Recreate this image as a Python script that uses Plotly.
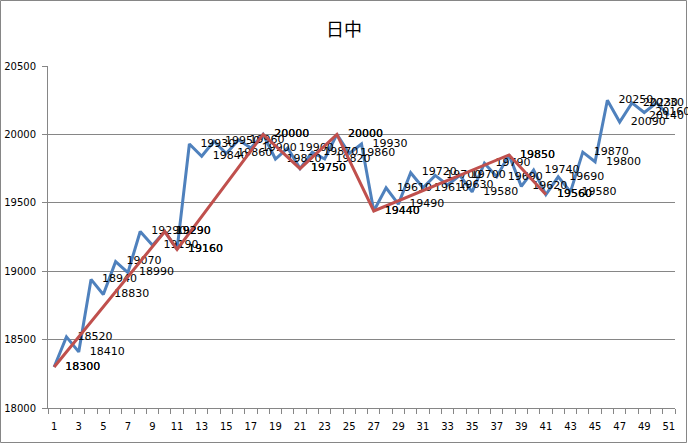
import plotly.graph_objects as go

# ---- data ----
days = list(range(1, 52))
price = [18300, 18520, 18410, 18940, 18830, 19070, 18990, 19290, 19190, 19290,
         19160, 19930, 19840, 19950, 19860, 19960, 19900, 20000, 19820, 19900,
         19750, 19870, 19820, 20000, 19860, 19930, 19440, 19610, 19490, 19720,
         19610, 19700, 19630, 19700, 19580, 19790, 19690, 19850, 19620, 19740,
         19560, 19690, 19580, 19870, 19800, 20250, 20090, 20230, 20160, 20230,
         20140]
zz_days = [1, 10, 11, 18, 21, 24, 27, 38, 41]
zz_price = [18300, 19290, 19160, 20000, 19750, 20000, 19440, 19850, 19560]
x_ticks = list(range(1, 52, 2))
y_ticks = [18000, 18500, 19000, 19500, 20000, 20500]
title_text = "日中"

BLUE = "#4F81BD"
RED = "#C0504D"
GRID = "#868686"
LABEL_FONT = dict(family="DejaVu Sans", size=11, color="black")

W, H = 688, 444
L, R, T, B = 48, 13, 66, 36
pw, ph = W - L - R, H - T - B
X0, X1 = 0.5, 51.5
ppu = pw / (X1 - X0)  # pixels per category

n = len(days)
n_pushed = 2  # labels nudged inward at the right edge of the chart
text_blue = [str(v) for v in price[:n - n_pushed]] + [""] * n_pushed

fig = go.Figure()
fig.add_trace(go.Scatter(
    x=days, y=price, mode="lines+markers+text",
    line=dict(color=BLUE, width=3),
    marker=dict(size=16, color="rgba(0,0,0,0)"),
    text=text_blue, textposition="middle right",
    textfont=LABEL_FONT, cliponaxis=False, showlegend=False, hoverinfo="skip",
))
fig.add_trace(go.Scatter(
    x=zz_days, y=zz_price, mode="lines+markers+text",
    line=dict(color=RED, width=3),
    marker=dict(size=16, color="rgba(0,0,0,0)"),
    text=[str(v) for v in zz_price], textposition="middle right",
    textfont=LABEL_FONT, cliponaxis=False, showlegend=False, hoverinfo="skip",
))

annotations = []
for d, v in zip(days[n - n_pushed:], price[n - n_pushed:]):
    px = L + (d - X0) * ppu
    annotations.append(dict(
        x=d, y=v, xref="x", yref="y", text=str(v), showarrow=False,
        xanchor="right", yanchor="middle", xshift=(W - 2) - px,
        font=LABEL_FONT,
    ))

fig.update_layout(
    width=W, height=H,
    margin=dict(l=L, r=R, t=T, b=B, autoexpand=False),
    paper_bgcolor="white", plot_bgcolor="white",
    title=dict(text=title_text, x=344 / W, xanchor="center", y=1 - 30 / H, yanchor="middle",
               font=dict(family="Noto Sans CJK JP", size=18, color="black")),
    xaxis=dict(
        range=[X0, X1], tickvals=x_ticks, ticktext=[str(v) for v in x_ticks],
        ticks="", showgrid=False, zeroline=False, automargin=False,
        showline=True, linecolor=GRID, linewidth=1,
        tickfont=dict(family="DejaVu Sans", size=10, color="black"),
        minor=dict(tick0=0.5, dtick=1, ticks="outside", ticklen=5, tickcolor=GRID, showgrid=False),
        ticklabelstandoff=9,
    ),
    yaxis=dict(
        range=[18000, 20500], tickvals=y_ticks, ticktext=[str(v) for v in y_ticks],
        ticks="outside", ticklen=5, tickcolor=GRID, automargin=False,
        showgrid=True, gridcolor=GRID, gridwidth=1, zeroline=False,
        showline=True, linecolor=GRID, linewidth=1,
        tickfont=dict(family="DejaVu Sans", size=10, color="black"),
        ticklabelstandoff=4,
    ),
    annotations=annotations,
    shapes=[dict(type="rect", xref="paper", yref="paper",
                 x0=(0.5 - L) / pw, x1=(W - 1.5 - L) / pw,
                 y0=-(H - 1.5 - (H - B)) / ph, y1=1 + (T - 0.5) / ph,
                 line=dict(color=GRID, width=1), layer="below")],
)

fig.write_html("out.html", config={"displayModeBar": False},
               post_script="document.body.style.margin='0';document.body.style.overflow='hidden';")
